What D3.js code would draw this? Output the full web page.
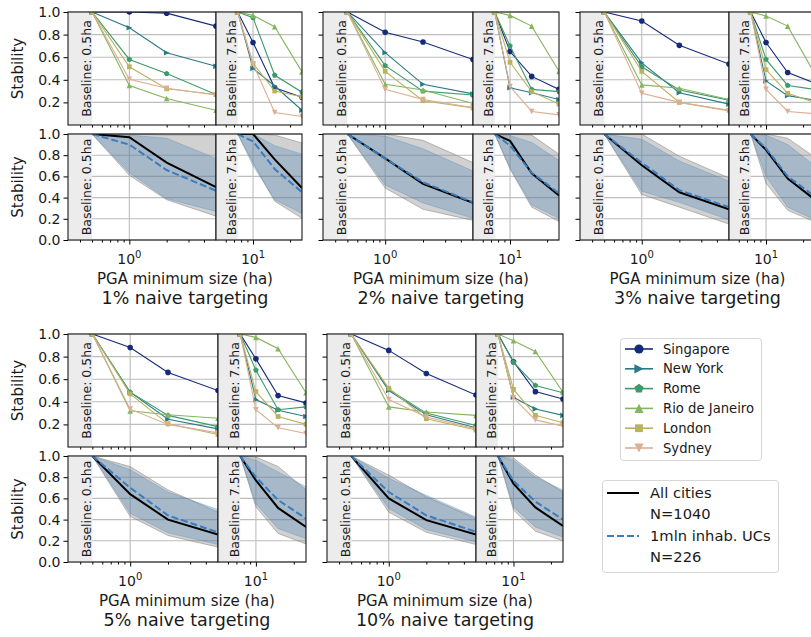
<!DOCTYPE html>
<html>
<head>
<meta charset="utf-8">
<title>PGA stability by naive targeting</title>
<script src="https://cdn.jsdelivr.net/npm/d3@7"></script>
<style>
  body { margin: 0; background: #fff; }
  svg { font-family: "DejaVu Sans", sans-serif; }
</style>
</head>
<body>
<svg id="chart" width="811" height="637"></svg>
<script>
// ---- data ----
var targeting = ["1%", "2%", "3%", "5%", "10%"];
var sizesLeft = [0.5, 1, 2, 5];
var sizesRight = [7.5, 10, 15, 25];
var baselineLabels = ["Baseline: 0.5ha", "Baseline: 7.5ha"];
var cities = ["Singapore", "New York", "Rome", "Rio de Janeiro", "London", "Sydney"];
var yTicksTop = [0.2, 0.4, 0.6, 0.8, 1.0];
var yTicksBottom = [0, 0.2, 0.4, 0.6, 0.8, 1.0];

// one row per targeting level
var singaporeLeft = [[1, 1.0, 0.99, 0.875], [1, 0.82, 0.735, 0.58], [1, 0.92, 0.705, 0.54], [1, 0.88, 0.66, 0.50], [1, 0.855, 0.65, 0.46]];
var singaporeRight = [[1, 0.73, 0.33, 0.245], [1, 0.65, 0.43, 0.315], [1, 0.73, 0.465, 0.37], [1, 0.78, 0.455, 0.39], [1, 0.755, 0.49, 0.425]];
var newYorkLeft = [[1, 0.86, 0.64, 0.52], [1, 0.64, 0.36, 0.275], [1, 0.55, 0.285, 0.185], [1, 0.485, 0.245, 0.16], [1, 0.50, 0.285, 0.17]];
var newYorkRight = [[1, 0.50, 0.345, 0.13], [1, 0.33, 0.285, 0.225], [1, 0.39, 0.26, 0.22], [1, 0.42, 0.325, 0.27], [1, 0.44, 0.337, 0.28]];
var romeLeft = [[1, 0.58, 0.455, 0.27], [1, 0.525, 0.30, 0.265], [1, 0.515, 0.31, 0.22], [1, 0.485, 0.28, 0.18], [1, 0.51, 0.30, 0.19]];
var romeRight = [[1, 0.95, 0.44, 0.29], [1, 0.70, 0.315, 0.295], [1, 0.58, 0.35, 0.315], [1, 0.68, 0.33, 0.355], [1, 0.75, 0.545, 0.48]];
var rioLeft = [[1, 0.35, 0.235, 0.13], [1, 0.36, 0.31, 0.19], [1, 0.355, 0.325, 0.225], [1, 0.32, 0.285, 0.255], [1, 0.355, 0.31, 0.28]];
var rioRight = [[1, 0.97, 0.87, 0.47], [1, 0.97, 0.875, 0.475], [1, 0.965, 0.875, 0.45], [1, 0.97, 0.87, 0.48], [1, 0.94, 0.845, 0.485]];
var londonLeft = [[1, 0.515, 0.32, 0.27], [1, 0.475, 0.215, 0.15], [1, 0.475, 0.20, 0.13], [1, 0.47, 0.205, 0.11], [1, 0.52, 0.25, 0.15]];
var londonRight = [[1, 0.545, 0.30, 0.25], [1, 0.555, 0.295, 0.185], [1, 0.49, 0.28, 0.20], [1, 0.49, 0.27, 0.20], [1, 0.51, 0.28, 0.215]];
var sydneyLeft = [[1, 0.405, 0.325, 0.265], [1, 0.315, 0.225, 0.155], [1, 0.28, 0.20, 0.125], [1, 0.335, 0.20, 0.125], [1, 0.42, 0.265, 0.16]];
var sydneyRight = [[1, 0.54, 0.11, 0.075], [1, 0.34, 0.12, 0.09], [1, 0.315, 0.12, 0.10], [1, 0.33, 0.17, 0.12], [1, 0.435, 0.24, 0.185]];

// aggregate curves: all cities (N=1040) and 1mln inhab. UCs (N=226)
var allMeanLeft = [[1, 0.97, 0.73, 0.50], [1, 0.77, 0.53, 0.35], [1, 0.705, 0.45, 0.29], [1, 0.64, 0.40, 0.26], [1, 0.60, 0.395, 0.26]];
var allHighLeft = [[1, 1, 0.99, 0.99], [1, 1, 0.94, 0.73], [1, 1, 0.79, 0.585], [1, 0.90, 0.68, 0.47], [1, 0.82, 0.615, 0.41]];
var allLowLeft = [[1, 0.61, 0.38, 0.225], [1, 0.49, 0.29, 0.185], [1, 0.43, 0.31, 0.15], [1, 0.43, 0.25, 0.14], [1, 0.47, 0.28, 0.165]];
var ucMeanLeft = [[1, 0.90, 0.66, 0.465], [1, 0.77, 0.545, 0.355], [1, 0.73, 0.47, 0.31], [1, 0.70, 0.44, 0.28], [1, 0.66, 0.44, 0.285]];
var ucHighLeft = [[1, 0.99, 0.96, 0.77], [1, 0.98, 0.86, 0.65], [1, 0.95, 0.745, 0.555], [1, 0.87, 0.66, 0.495], [1, 0.79, 0.63, 0.425]];
var ucLowLeft = [[1, 0.635, 0.39, 0.27], [1, 0.52, 0.35, 0.205], [1, 0.46, 0.355, 0.19], [1, 0.46, 0.275, 0.165], [1, 0.505, 0.305, 0.19]];
var allMeanRight = [[1, 1.0, 0.76, 0.49], [1, 0.935, 0.63, 0.42], [1, 0.85, 0.58, 0.38], [1, 0.77, 0.51, 0.33], [1, 0.74, 0.515, 0.34]];
var allHighRight = [[1, 1, 0.99, 0.915], [1, 1, 0.99, 0.81], [1, 1, 0.96, 0.78], [1, 0.99, 0.90, 0.68], [1, 0.98, 0.82, 0.66]];
var allLowRight = [[1, 0.73, 0.365, 0.205], [1, 0.67, 0.31, 0.175], [1, 0.535, 0.28, 0.17], [1, 0.52, 0.27, 0.17], [1, 0.49, 0.29, 0.20]];
var ucMeanRight = [[1, 0.93, 0.67, 0.45], [1, 0.89, 0.635, 0.44], [1, 0.865, 0.60, 0.41], [1, 0.80, 0.585, 0.41], [1, 0.765, 0.57, 0.40]];
var ucHighRight = [[1, 1, 0.89, 0.81], [1, 0.985, 0.92, 0.75], [1, 0.99, 0.90, 0.70], [1, 0.96, 0.85, 0.71], [1, 0.96, 0.80, 0.68]];
var ucLowRight = [[1, 0.70, 0.38, 0.25], [1, 0.68, 0.33, 0.205], [1, 0.60, 0.31, 0.19], [1, 0.55, 0.315, 0.22], [1, 0.52, 0.33, 0.235]];

// ---- styles & layout ----
var cityColors = ["#152a7a", "#2a7a86", "#3d9a6a", "#85b560", "#b9b35e", "#dcae93"];
var cityShapes = ["circle", "right", "pentagon", "up", "square", "down"];
var cityLeft = [singaporeLeft, newYorkLeft, romeLeft, rioLeft, londonLeft, sydneyLeft];
var cityRight = [singaporeRight, newYorkRight, romeRight, rioRight, londonRight, sydneyRight];

// x0 | xm | x1 ; rows: top (y0-y1), bottom (y2-y3)
var layout = [
  {x0: 68,  xm: 216, x1: 302, y0: 12,  y1: 125, y2: 134, y3: 240, labels: true},
  {x0: 323, xm: 473, x1: 559, y0: 12,  y1: 125, y2: 134, y3: 240, labels: false},
  {x0: 580, xm: 729, x1: 815, y0: 12,  y1: 125, y2: 134, y3: 240, labels: false},
  {x0: 68,  xm: 218, x1: 306, y0: 334, y1: 447, y2: 456, y3: 562, labels: true},
  {x0: 327, xm: 476, x1: 563, y0: 334, y1: 447, y2: 456, y3: 562, labels: false}
];

var svg = d3.select("#chart");
var defs = svg.append("defs");
var clipId = 0;

function markerPath(shape, s) {
  if (shape == "circle") return d3.symbol(d3.symbolCircle, Math.PI * s * s)();
  if (shape == "square") { var q = s * 0.85; return "M" + (-q) + "," + (-q) + "H" + q + "V" + q + "H" + (-q) + "Z"; }
  if (shape == "up") return "M0," + (-s) + "L" + s + "," + s + "L" + (-s) + "," + s + "Z";
  if (shape == "down") return "M0," + s + "L" + s + "," + (-s) + "L" + (-s) + "," + (-s) + "Z";
  if (shape == "right") return "M" + s + ",0L" + (-s) + "," + s + "L" + (-s) + "," + (-s) + "Z";
  // pentagon
  var pts = d3.range(5).map(function(i) {
    var a = -Math.PI / 2 + i * 2 * Math.PI / 5;
    return [s * 1.05 * Math.cos(a), s * 1.05 * Math.sin(a)];
  });
  return "M" + pts.join("L") + "Z";
}

function drawPanel(gi, side, row) {
  var L = layout[gi];
  var xs = d3.scaleLog()
      .domain(side == 0 ? [0.32, 5] : [5, 25])
      .range(side == 0 ? [L.x0, L.xm] : [L.xm, L.x1]);
  var top = row == 0 ? L.y0 : L.y2, bottom = row == 0 ? L.y1 : L.y3;
  var ys = d3.scaleLinear().domain([0, 1]).range([bottom, top]);
  var sizes = side == 0 ? sizesLeft : sizesRight;
  var yTicks = row == 0 ? yTicksTop : yTicksBottom;
  var majors = side == 0 ? [1] : [10];
  var minors = side == 0 ? [0.4, 0.5, 0.6, 0.7, 0.8, 0.9, 2, 3, 4] : [6, 7, 8, 9, 20];
  var x0 = xs.range()[0], x1 = xs.range()[1];

  var g = svg.append("g");

  // grid
  g.selectAll(".hgrid").data(yTicks).enter().append("line")
      .attr("x1", x0).attr("x2", x1)
      .attr("y1", function(d) { return ys(d); }).attr("y2", function(d) { return ys(d); })
      .attr("stroke", "#bdbdbd").attr("stroke-width", 1.1);
  g.selectAll(".vgrid").data(majors).enter().append("line")
      .attr("x1", function(d) { return xs(d); }).attr("x2", function(d) { return xs(d); })
      .attr("y1", top).attr("y2", bottom)
      .attr("stroke", "#bdbdbd").attr("stroke-width", 1.1);

  // baseline shading
  var bx = xs(sizes[0]);
  g.append("rect").attr("x", x0).attr("y", top)
      .attr("width", bx - x0).attr("height", bottom - top)
      .attr("fill", "#ececec");
  g.append("text")
      .attr("transform", "translate(" + (bx - 1.5) + "," + ((top + bottom) / 2) + ") rotate(-90)")
      .attr("text-anchor", "middle")
      .attr("font-size", "12.5px").attr("fill", "#1a1a1a")
      .text(baselineLabels[side]);

  // clipped data layer
  clipId++;
  defs.append("clipPath").attr("id", "clip" + clipId)
    .append("rect").attr("x", x0).attr("y", top).attr("width", x1 - x0).attr("height", bottom - top);
  var data = g.append("g").attr("clip-path", "url(#clip" + clipId + ")");

  if (row == 0) {
    var line = d3.line().x(function(d) { return xs(d[0]); }).y(function(d) { return ys(d[1]); });
    cities.forEach(function(c, ci) {
      var vals = (side == 0 ? cityLeft : cityRight)[ci][gi];
      var pts = sizes.map(function(s, k) { return [s, vals[k]]; });
      data.append("path").datum(pts)
          .attr("d", line).attr("fill", "none")
          .attr("stroke", cityColors[ci]).attr("stroke-width", 1.1);
      data.selectAll(".m" + ci).data(pts).enter().append("path")
          .attr("transform", function(d) { return "translate(" + xs(d[0]) + "," + ys(d[1]) + ")"; })
          .attr("d", markerPath(cityShapes[ci], 2.8))
          .attr("fill", cityColors[ci]);
    });
  } else {
    var bands = side == 0
      ? {allLo: allLowLeft, allHi: allHighLeft, allM: allMeanLeft, ucLo: ucLowLeft, ucHi: ucHighLeft, ucM: ucMeanLeft}
      : {allLo: allLowRight, allHi: allHighRight, allM: allMeanRight, ucLo: ucLowRight, ucHi: ucHighRight, ucM: ucMeanRight};
    var idx = d3.range(sizes.length);
    function area(lo, hi) {
      return d3.area().x(function(k) { return xs(sizes[k]); })
        .y0(function(k) { return ys(lo[gi][k]); })
        .y1(function(k) { return ys(hi[gi][k]); })(idx);
    }
    function line(m) {
      return d3.line().x(function(k) { return xs(sizes[k]); })
        .y(function(k) { return ys(m[gi][k]); })(idx);
    }
    data.append("path").attr("d", area(bands.allLo, bands.allHi))
        .attr("fill", "#808080").attr("fill-opacity", 0.36)
        .attr("stroke", "#808080").attr("stroke-opacity", 0.5).attr("stroke-width", 1);
    data.append("path").attr("d", area(bands.ucLo, bands.ucHi))
        .attr("fill", "#4682b4").attr("fill-opacity", 0.3)
        .attr("stroke", "#4682b4").attr("stroke-opacity", 0.3).attr("stroke-width", 1);
    data.append("path").attr("d", line(bands.allM))
        .attr("fill", "none").attr("stroke", "#000").attr("stroke-width", 2);
    data.append("path").attr("d", line(bands.ucM))
        .attr("fill", "none").attr("stroke", "#3b7bbf").attr("stroke-width", 2)
        .attr("stroke-dasharray", "7,3");
  }

  // x ticks
  g.append("g").attr("transform", "translate(0," + bottom + ")")
      .call(d3.axisBottom(xs).tickValues(minors).tickSize(2.5).tickFormat(""))
      .call(function(a) { a.select(".domain").remove(); a.selectAll("line").attr("stroke", "#000"); });
  g.append("g").attr("transform", "translate(0," + bottom + ")")
      .call(d3.axisBottom(xs).tickValues(majors).tickSize(4.5).tickFormat(""))
      .call(function(a) { a.select(".domain").remove(); a.selectAll("line").attr("stroke", "#000"); });
  if (row == 1) {
    majors.forEach(function(m) {
      var t = g.append("text").attr("x", xs(m)).attr("y", bottom + 24)
          .attr("text-anchor", "middle").attr("font-size", "14px").attr("fill", "#1a1a1a");
      t.append("tspan").text("10");
      t.append("tspan").attr("font-size", "10px").attr("dy", "-6").text(Math.round(Math.log10(m)));
    });
  }

  // y ticks (left panels only)
  if (side == 0) {
    var ax = d3.axisLeft(ys).tickValues(yTicks).tickSize(4.5).tickPadding(3)
        .tickFormat(L.labels ? d3.format(".1f") : "");
    g.append("g").attr("transform", "translate(" + x0 + ",0)").call(ax)
      .call(function(a) {
        a.select(".domain").remove();
        a.selectAll("line").attr("stroke", "#000");
        a.selectAll("text").attr("font-size", "14px").attr("font-family", "DejaVu Sans").attr("fill", "#1a1a1a");
      });
  }

  // spines
  g.append("rect").attr("x", x0).attr("y", top)
      .attr("width", x1 - x0).attr("height", bottom - top)
      .attr("fill", "none").attr("stroke", "#1a1a1a").attr("stroke-width", 1.1);
}

layout.forEach(function(L, gi) {
  [0, 1].forEach(function(side) {
    [0, 1].forEach(function(row) { drawPanel(gi, side, row); });
  });
  var cx = (L.x0 + L.x1) / 2;
  svg.append("text").attr("x", cx).attr("y", L.y3 + 44)
      .attr("text-anchor", "middle").attr("font-size", "15px").attr("fill", "#1a1a1a")
      .text("PGA minimum size (ha)");
  svg.append("text").attr("x", cx).attr("y", L.y3 + 64)
      .attr("text-anchor", "middle").attr("font-size", "17.5px").attr("fill", "#1a1a1a")
      .text(targeting[gi] + " naive targeting");
  if (L.labels) {
    [[L.y0, L.y1], [L.y2, L.y3]].forEach(function(r) {
      svg.append("text")
          .attr("transform", "translate(23," + ((r[0] + r[1]) / 2) + ") rotate(-90)")
          .attr("text-anchor", "middle").attr("font-size", "15px").attr("fill", "#1a1a1a")
          .text("Stability");
    });
  }
});

// ---- legends ----
var leg1 = svg.append("g");
leg1.append("rect").attr("x", 620.5).attr("y", 338.5).attr("width", 141).attr("height", 122)
    .attr("rx", 3).attr("fill", "#fff").attr("stroke", "#d6d6d6");
cities.forEach(function(c, ci) {
  var y = 349 + ci * 19.8;
  leg1.append("line").attr("x1", 625).attr("x2", 653).attr("y1", y).attr("y2", y)
      .attr("stroke", cityColors[ci]).attr("stroke-width", 1.6);
  leg1.append("path").attr("transform", "translate(639," + y + ")")
      .attr("d", markerPath(cityShapes[ci], 4.6)).attr("fill", cityColors[ci]);
  leg1.append("text").attr("x", 663).attr("y", y).attr("dy", "0.35em")
      .attr("font-size", "13.2px").attr("fill", "#1a1a1a").text(c);
});

var leg2 = svg.append("g");
leg2.append("rect").attr("x", 602.5).attr("y", 480.5).attr("width", 176).attr("height", 92)
    .attr("rx", 3).attr("fill", "#fff").attr("stroke", "#d6d6d6");
var leg2Items = [
  {text: "All cities", y: 493, stroke: "#000", dash: null},
  {text: "N=1040", y: 514, stroke: null},
  {text: "1mln inhab. UCs", y: 536, stroke: "#3b7bbf", dash: "7,3"},
  {text: "N=226", y: 557, stroke: null}
];
leg2Items.forEach(function(it) {
  if (it.stroke) {
    leg2.append("line").attr("x1", 607).attr("x2", 639).attr("y1", it.y).attr("y2", it.y)
        .attr("stroke", it.stroke).attr("stroke-width", 2)
        .attr("stroke-dasharray", it.dash);
  }
  leg2.append("text").attr("x", 650).attr("y", it.y).attr("dy", "0.35em")
      .attr("font-size", "14.7px").attr("fill", "#1a1a1a").text(it.text);
});
</script>
</body>
</html>
